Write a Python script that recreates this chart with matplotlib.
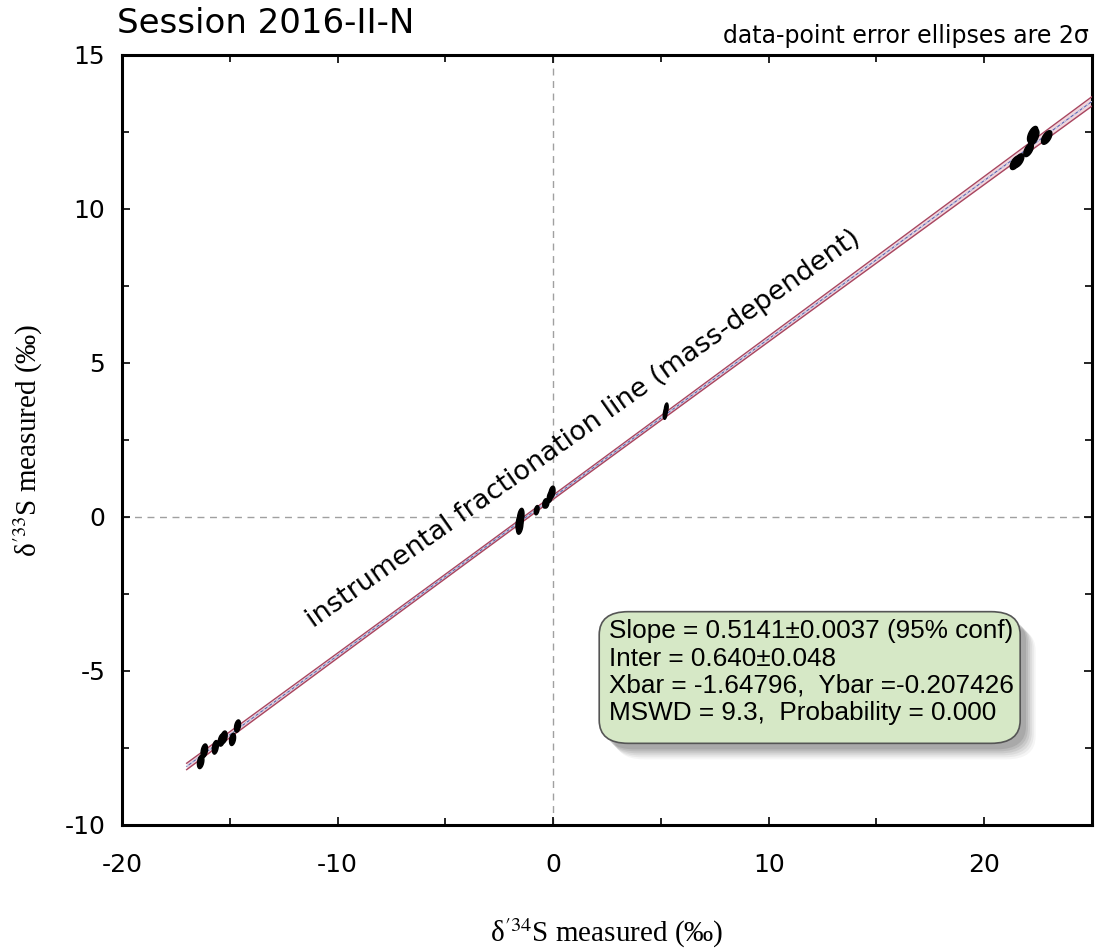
import numpy as np
import matplotlib
matplotlib.use("Agg")
import matplotlib.pyplot as plt
from matplotlib.patches import FancyBboxPatch, Polygon
from matplotlib.ticker import MultipleLocator, FuncFormatter

# -----------------------------
# Data
# -----------------------------
d34 = [-16.35, -16.18, -15.67, -15.38, -15.27, -14.87, -14.64,
       -1.55, -1.52, -1.50, -1.57, -0.76, -0.37, -0.30, -0.15, -0.05,
       5.20, 5.25,
       21.45, 21.60, 22.06, 22.30, 22.25, 22.90]
d33 = [-7.95, -7.59, -7.48, -7.24, -7.15, -7.22, -6.79,
       -0.30, -0.10, 0.02, -0.20, 0.22, 0.44, 0.44, 0.65, 0.80,
       3.35, 3.52,
       11.50, 11.57, 11.92, 12.33, 12.42, 12.32]
err34 = [0.15, 0.15, 0.14, 0.15, 0.15, 0.14, 0.14,
         0.15, 0.15, 0.15, 0.15, 0.11, 0.11, 0.11, 0.12, 0.14,
         0.09, 0.09,
         0.24, 0.24, 0.22, 0.24, 0.24, 0.24]
err33 = [0.22, 0.22, 0.22, 0.20, 0.20, 0.20, 0.20,
         0.26, 0.26, 0.26, 0.26, 0.15, 0.15, 0.15, 0.18, 0.20,
         0.18, 0.18,
         0.22, 0.22, 0.22, 0.26, 0.26, 0.22]
rho = [0.3] * 7 + [0.3] * 9 + [0.3] * 2 + [0.55] * 6

slope, slope_err = 0.5141, 0.0037
inter, inter_err = 0.640, 0.048
xbar, ybar = -1.64796, -0.207426
x_line = [-17.0, 25.0]

# -----------------------------
# Figure
# -----------------------------
plt.rcParams["mathtext.fontset"] = "stix"
fig = plt.figure(figsize=(10.97, 9.49), dpi=100)
ax = fig.add_axes([0.1112, 0.1307, 0.8842, 0.8114])
ax.set_xlim(-20, 25)
ax.set_ylim(-10, 15)

# zero lines
ax.axvline(0, color="#a0a0a0", ls=(0, (5, 4)), lw=1.0, zorder=1)
ax.axhline(0, color="#a0a0a0", ls=(0, (5, 4)), lw=1.0, zorder=1)

# regression line with error envelope
xs = np.linspace(x_line[0], x_line[1], 200)
yfit = slope * xs + inter
e_ybar = np.sqrt(inter_err**2 - (slope_err * xbar) ** 2)
half = np.sqrt(e_ybar**2 + (slope_err * (xs - xbar)) ** 2) * 1.4
ax.fill_between(xs, yfit - half, yfit + half, color="#f2d6dc", lw=0, zorder=2)
ax.plot(xs, yfit - half, color="#a84660", lw=1.0, zorder=3)
ax.plot(xs, yfit + half, color="#a84660", lw=1.0, zorder=3)
ax.plot(xs, yfit, color="#5466b4", lw=0.8, zorder=3)
ax.plot(xs, yfit, color="white", lw=0.5, ls=(0, (4, 4)), zorder=3)

# error ellipses (2 sigma)
t = np.linspace(0, 2 * np.pi, 60)
for x0, y0, sx, sy, r in zip(d34, d33, err34, err33, rho):
    ex = x0 + sx * np.cos(t)
    ey = y0 + sy * (r * np.cos(t) + np.sqrt(1 - r**2) * np.sin(t))
    ax.add_patch(Polygon(np.column_stack([ex, ey]), closed=True,
                         facecolor="black", edgecolor="black", lw=1.0, zorder=4))

# rotated label along line
ax.text(1.4, 2.85, "instrumental fractionation line (mass-dependent)",
        rotation=35.2, rotation_mode="anchor", ha="center", va="center",
        fontsize=19.5, family="DejaVu Sans", zorder=5)

# -----------------------------
# Stats box with shadow
# -----------------------------
bx0, by0, bw, bh = 0.492, 0.106, 0.434, 0.171
for k, a in enumerate([0.04, 0.05, 0.06, 0.07, 0.08, 0.09]):
    off = 0.016 - k * 0.002
    sh = FancyBboxPatch((bx0 + off, by0 - off * 1.3), bw, bh,
                        boxstyle="round,pad=0,rounding_size=0.03",
                        transform=ax.transAxes, facecolor="black",
                        edgecolor="none", alpha=a, zorder=6)
    ax.add_patch(sh)
box = FancyBboxPatch((bx0, by0), bw, bh,
                     boxstyle="round,pad=0,rounding_size=0.03",
                     transform=ax.transAxes, facecolor="#d6e8c6",
                     edgecolor="#555555", lw=1.2, zorder=7)
ax.add_patch(box)
stats = (f"Slope = {slope:.4f}\u00b1{slope_err:.4f} (95% conf)\n"
         f"Inter = {inter:.3f}\u00b1{inter_err:.3f}\n"
         f"Xbar = {xbar:.5f},  Ybar ={ybar:.6f}\n"
         "MSWD = 9.3,  Probability = 0.000")
ax.text(bx0 + 0.010, by0 + bh - 0.010, stats, transform=ax.transAxes,
        ha="left", va="top", fontsize=18.8, family="Liberation Sans",
        linespacing=1.17, zorder=8)

# -----------------------------
# Axes styling
# -----------------------------
for s in ax.spines.values():
    s.set_linewidth(2.2)
ax.xaxis.set_major_locator(MultipleLocator(10))
ax.xaxis.set_minor_locator(MultipleLocator(5))
ax.yaxis.set_major_locator(MultipleLocator(5))
ax.yaxis.set_minor_locator(MultipleLocator(2.5))
ax.tick_params(which="both", direction="in", top=True, right=True,
               width=1.2, labelsize=18)
ax.tick_params(which="major", length=6)
ax.tick_params(which="minor", length=5)
ax.tick_params(axis="x", pad=20)
ax.tick_params(axis="y", pad=12)
ax.xaxis.set_major_formatter(FuncFormatter(lambda v, p: f"{v:g}"))
ax.yaxis.set_major_formatter(FuncFormatter(lambda v, p: f"{v:g}"))

ax.set_xlabel("\u03b4$^{\\prime 34}$S measured (‰)", fontsize=21,
              family="Liberation Serif", labelpad=29)
ax.set_ylabel("\u03b4$^{\\prime 33}$S measured (‰)", fontsize=21,
              family="Liberation Serif", labelpad=14)

fig.text(0.107, 0.975, "Session 2016-II-N", fontsize=24.5, ha="left",
         va="center", family="DejaVu Sans")
fig.text(0.993, 0.962, "data-point error ellipses are 2\u03c3", fontsize=17,
         ha="right", va="center", family="DejaVu Sans")

fig.savefig("out.png", dpi=100)
